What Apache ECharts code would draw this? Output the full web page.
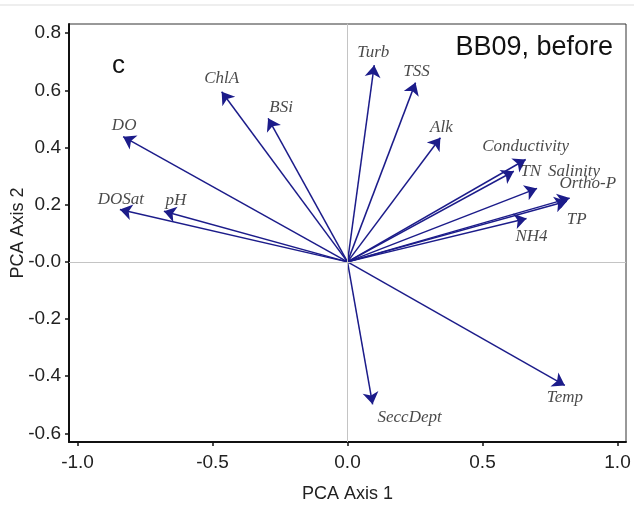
<!DOCTYPE html>
<html>
<head>
<meta charset="utf-8">
<script src="https://cdn.jsdelivr.net/npm/echarts@6/dist/echarts.min.js"></script>
<style>
html,body{margin:0;padding:0;background:#fff;}
#c{width:634px;height:506px;}
</style>
</head>
<body>
<div id="c"></div>
<script>
// ---- data ----
var variables = ['Turb','TSS','Alk','Conductivity','TN','Salinity','Ortho-P','TP','NH4','Temp','SeccDept','ChlA','BSi','DO','DOSat','pH'];
var axis1Loadings = [0.099,0.252,0.344,0.660,0.616,0.702,0.823,0.812,0.663,0.805,0.093,-0.466,-0.294,-0.831,-0.843,-0.680];
var axis2Loadings = [0.688,0.627,0.434,0.358,0.317,0.257,0.223,0.212,0.152,-0.432,-0.498,0.595,0.502,0.438,0.183,0.177];
var xTicks = [-1.0,-0.5,0.0,0.5,1.0];
var yTicks = [-0.6,-0.4,-0.2,0.0,0.2,0.4,0.6,0.8];
var panelLetter = 'c';
var panelTitle = 'BB09, before';

// ---- layout (label pixel offsets from arrow tips) ----
var labelOffsets = {
  'Turb':[-1,-13],'TSS':[1,-11],'Alk':[1,-10],'Conductivity':[0,-13],'TN':[17,0],
  'Salinity':[37,-17],'Ortho-P':[18,-15],'TP':[10,18],'NH4':[5,18],'Temp':[0,12],
  'SeccDept':[37,13],'ChlA':[0,-13],'BSi':[13,-11],'DO':[1,-11],'DOSat':[1,-10],'pH':[12,-11]
};

var arrowColor = '#1c1c8a';
var lineData = variables.map(function(n,i){
  return {name:n, coords:[[0,0],[axis1Loadings[i],axis2Loadings[i]]]};
});
var labelData = variables.map(function(n,i){
  return {name:n, value:[axis1Loadings[i],axis2Loadings[i]],
    label:{offset:labelOffsets[n]}};
});

var chart = echarts.init(document.getElementById('c'), null, {renderer:'canvas'});
chart.setOption({
  animation:false,
  grid:{left:69,right:8,top:24,bottom:64,show:true,borderColor:'#333',borderWidth:1,
    backgroundColor:'transparent',containLabel:false,outerBoundsMode:'none'},
  xAxis:{
    type:'value',min:-1.0315,max:1.0315,
    name:'PCA Axis 1',nameLocation:'middle',nameGap:43,nameMoveOverlap:false,
    nameTextStyle:{fontFamily:'Liberation Sans',fontSize:18,color:'#222'},
    axisLine:{show:true,onZero:false,lineStyle:{color:'#111',width:2}},
    axisTick:{show:true,length:4,customValues:xTicks,lineStyle:{color:'#111',width:1.5}},
    axisLabel:{customValues:xTicks,margin:11,fontFamily:'Liberation Sans',fontSize:19,color:'#222',
      formatter:function(v){return v.toFixed(1);}},
    splitLine:{show:false}
  },
  yAxis:{
    type:'value',min:-0.63,max:0.832,
    name:'PCA Axis 2',nameLocation:'middle',nameGap:42,nameRotate:90,nameMoveOverlap:false,
    nameTextStyle:{fontFamily:'Liberation Sans',fontSize:18,color:'#222'},
    axisLine:{show:true,onZero:false,lineStyle:{color:'#111',width:2}},
    axisTick:{show:true,length:4,customValues:yTicks,lineStyle:{color:'#111',width:1.5}},
    axisLabel:{customValues:yTicks,margin:8,fontFamily:'Liberation Sans',fontSize:19,color:'#222',
      formatter:function(v){return Math.abs(v)<1e-9?'-0.0':v.toFixed(1);}},
    splitLine:{show:false}
  },
  graphic:[
    {type:'line',shape:{x1:0,y1:5,x2:634,y2:5},style:{stroke:'#dddddd',lineWidth:1},silent:true},
    {type:'text',left:112,top:53,style:{text:panelLetter,font:'26px "Liberation Sans"',fill:'#111'}},
    {type:'text',right:21,top:34,style:{text:panelTitle,font:'27px "Liberation Sans"',fill:'#111'}}
  ],
  series:[
    {
      type:'line',data:[],z:1,silent:true,
      markLine:{silent:true,symbol:'none',label:{show:false},
        lineStyle:{color:'#c4c4c4',width:1,type:'solid'},
        data:[{xAxis:0},{yAxis:0}]}
    },
    {
      type:'lines',coordinateSystem:'cartesian2d',z:3,silent:true,
      symbol:['none','arrow'],symbolSize:12,
      lineStyle:{color:arrowColor,width:1.5,opacity:1},
      data:lineData
    },
    {
      type:'scatter',z:4,symbolSize:0,silent:true,
      label:{show:true,position:'inside',formatter:'{b}',
        fontFamily:'Liberation Serif',fontStyle:'italic',fontSize:17,color:'#1a1a1a'},
      data:labelData
    }
  ]
});
</script>
</body>
</html>
